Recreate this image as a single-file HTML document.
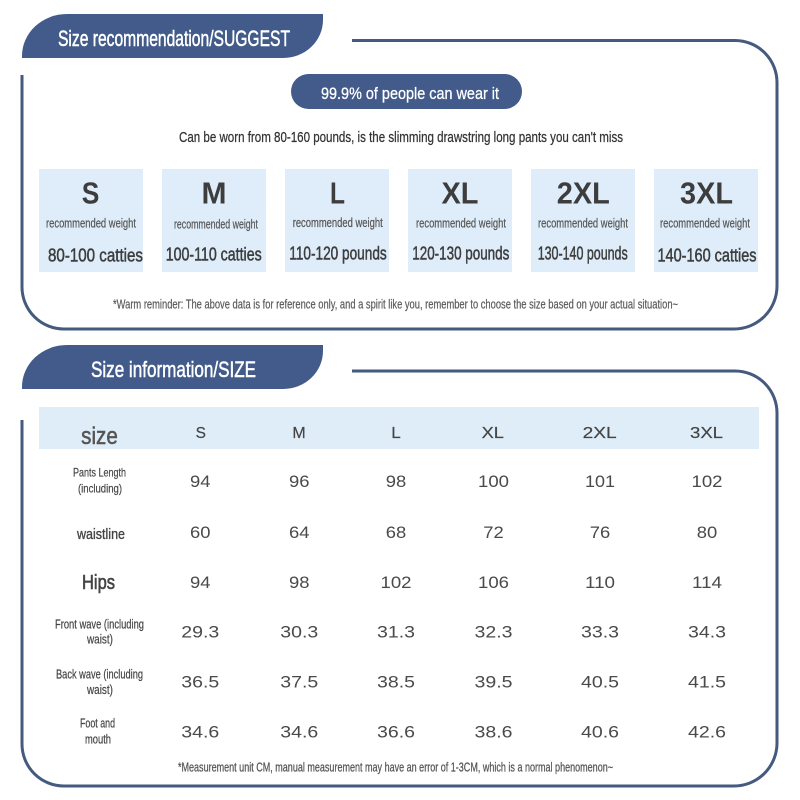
<!DOCTYPE html>
<html><head><meta charset="utf-8"><style>
html,body{margin:0;padding:0;background:#fff;}
svg{display:block;}
text{font-family:"Liberation Sans",sans-serif;}
</style></head><body>
<svg width="800" height="800" viewBox="0 0 800 800" xmlns="http://www.w3.org/2000/svg">
<rect width="800" height="800" fill="#fff"/>
<!-- Section 1 -->
<path d="M352,40.5 H735 A42,42 0 0 1 777,82.5 V286 A43,43 0 0 1 734,329 H64 A42,42 0 0 1 22,287 V75" fill="none" stroke="#455a7f" stroke-width="3"/>
<path d="M22,58 V56 A45,42 0 0 1 67,14 H323 V20 A40,38 0 0 1 283,58 Z" fill="#425b8a"/>
<text x="174" y="46" font-size="22" fill="#fff" stroke="#fff" stroke-width="0.5" text-anchor="middle" textLength="232" lengthAdjust="spacingAndGlyphs">Size recommendation/SUGGEST</text>
<rect x="291" y="74" width="231" height="35" rx="17.5" fill="#425b8a"/>
<text x="410" y="99" font-size="17" fill="#fff" stroke="#fff" stroke-width="0.3" text-anchor="middle" textLength="178" lengthAdjust="spacingAndGlyphs">99.9% of people can wear it</text>
<text x="401" y="142" font-size="15" fill="#333" stroke="#333" stroke-width="0.25" text-anchor="middle" textLength="444" lengthAdjust="spacingAndGlyphs">Can be worn from 80-160 pounds, is the slimming drawstring long pants you can't miss</text>

<g fill="#deedf9">
<rect x="39" y="169" width="104" height="103"/>
<rect x="162" y="169" width="104" height="103"/>
<rect x="285" y="169" width="104" height="103"/>
<rect x="408" y="169" width="104" height="103"/>
<rect x="531" y="169" width="104" height="103"/>
<rect x="654" y="169" width="104" height="103"/>
</g>
<g font-size="31" font-weight="bold" fill="#3d3d3d" text-anchor="middle">
<text x="90.5" y="203.5" textLength="17.6" lengthAdjust="spacingAndGlyphs">S</text>
<text x="214" y="203.5" textLength="25" lengthAdjust="spacingAndGlyphs">M</text>
<text x="337.5" y="203.5" textLength="15" lengthAdjust="spacingAndGlyphs">L</text>
<text x="460" y="203.5" textLength="37" lengthAdjust="spacingAndGlyphs">XL</text>
<text x="583.3" y="203.5" textLength="53" lengthAdjust="spacingAndGlyphs">2XL</text>
<text x="706.5" y="203.5" textLength="53" lengthAdjust="spacingAndGlyphs">3XL</text>
</g>
<g font-size="12.5" fill="#555" stroke="#555" stroke-width="0.2" text-anchor="middle">
<text x="91" y="227.5" textLength="90" lengthAdjust="spacingAndGlyphs">recommended weight</text>
<text x="216" y="228.3" textLength="84" lengthAdjust="spacingAndGlyphs">recommended weight</text>
<text x="337.7" y="227" textLength="90" lengthAdjust="spacingAndGlyphs">recommended weight</text>
<text x="461" y="227.5" textLength="90" lengthAdjust="spacingAndGlyphs">recommended weight</text>
<text x="583" y="227.5" textLength="90" lengthAdjust="spacingAndGlyphs">recommended weight</text>
<text x="705" y="227.5" textLength="90" lengthAdjust="spacingAndGlyphs">recommended weight</text>
</g>
<g font-size="18.5" fill="#3d3d3d" stroke="#3d3d3d" stroke-width="0.5" text-anchor="middle">
<text x="95.5" y="261.7" textLength="95" lengthAdjust="spacingAndGlyphs">80-100 catties</text>
<text x="213.7" y="260.7" textLength="96" lengthAdjust="spacingAndGlyphs">100-110 catties</text>
<text x="338" y="259.3" textLength="97.4" lengthAdjust="spacingAndGlyphs">110-120 pounds</text>
<text x="460.8" y="259.3" textLength="97" lengthAdjust="spacingAndGlyphs">120-130 pounds</text>
<text x="582.7" y="259.3" textLength="90" lengthAdjust="spacingAndGlyphs">130-140 pounds</text>
<text x="707" y="261.7" textLength="99" lengthAdjust="spacingAndGlyphs">140-160 catties</text>
</g>
<text x="395.5" y="308.5" font-size="12.5" fill="#5a5a5a" stroke="#5a5a5a" stroke-width="0.2" text-anchor="middle" textLength="565" lengthAdjust="spacingAndGlyphs">*Warm reminder: The above data is for reference only, and a spirit like you, remember to choose the size based on your actual situation~</text>

<!-- Section 2 -->
<path d="M352,371 H735 A42,42 0 0 1 777,413 V743 A43,43 0 0 1 734,786 H64 A42,42 0 0 1 22,744 V420" fill="none" stroke="#455a7f" stroke-width="3"/>
<path d="M22,389 V387 A45,42 0 0 1 67,345 H323 V351 A40,38 0 0 1 283,389 Z" fill="#425b8a"/>
<text x="173.5" y="377" font-size="22" fill="#fff" stroke="#fff" stroke-width="0.5" text-anchor="middle" textLength="165" lengthAdjust="spacingAndGlyphs">Size information/SIZE</text>

<rect x="39" y="407" width="720" height="42" fill="#deedf8"/>
<text x="99.5" y="444" font-size="24" fill="#555" stroke="#555" stroke-width="0.5" text-anchor="middle" textLength="36.7" lengthAdjust="spacingAndGlyphs">size</text>
<g font-size="16" fill="#444" stroke="#444" stroke-width="0.2" text-anchor="middle">
<text x="200.8" y="438" textLength="10.3" lengthAdjust="spacingAndGlyphs">S</text>
<text x="299" y="438" textLength="13.3" lengthAdjust="spacingAndGlyphs">M</text>
<text x="396" y="438" textLength="9.5" lengthAdjust="spacingAndGlyphs">L</text>
<text x="492.8" y="438" textLength="22.3" lengthAdjust="spacingAndGlyphs">XL</text>
<text x="599.7" y="438" textLength="34" lengthAdjust="spacingAndGlyphs">2XL</text>
<text x="706.5" y="438" textLength="33" lengthAdjust="spacingAndGlyphs">3XL</text>
</g>

<g fill="#444" stroke="#444" stroke-width="0.2" text-anchor="middle">
<text x="99.5" y="476.7" font-size="12" textLength="53" lengthAdjust="spacingAndGlyphs">Pants Length</text>
<text x="100" y="492.3" font-size="12" textLength="44" lengthAdjust="spacingAndGlyphs">(including)</text>
<text x="101" y="539" font-size="15" stroke-width="0.35" textLength="48" lengthAdjust="spacingAndGlyphs">waistline</text>
<text x="98.5" y="589" font-size="20" stroke-width="0.6" textLength="33" lengthAdjust="spacingAndGlyphs">Hips</text>
<text x="99.5" y="628.3" font-size="12.5" textLength="89" lengthAdjust="spacingAndGlyphs">Front wave (including</text>
<text x="100" y="643.3" font-size="12.5" textLength="26" lengthAdjust="spacingAndGlyphs">waist)</text>
<text x="99.5" y="678.3" font-size="12.5" textLength="87" lengthAdjust="spacingAndGlyphs">Back wave (including</text>
<text x="100" y="694" font-size="12.5" textLength="26" lengthAdjust="spacingAndGlyphs">waist)</text>
<text x="97.5" y="727.7" font-size="12.5" textLength="35" lengthAdjust="spacingAndGlyphs">Foot and</text>
<text x="98" y="743.3" font-size="12.5" textLength="26" lengthAdjust="spacingAndGlyphs">mouth</text>
</g>

<g font-size="17" fill="#4a4a4a" text-anchor="middle">
<text x="200.3" y="487" textLength="20.5" lengthAdjust="spacingAndGlyphs">94</text>
<text x="299.3" y="487" textLength="20.5" lengthAdjust="spacingAndGlyphs">96</text>
<text x="396" y="487" textLength="20.5" lengthAdjust="spacingAndGlyphs">98</text>
<text x="493.5" y="487" textLength="31" lengthAdjust="spacingAndGlyphs">100</text>
<text x="600" y="487" textLength="30" lengthAdjust="spacingAndGlyphs">101</text>
<text x="707" y="487" textLength="31" lengthAdjust="spacingAndGlyphs">102</text>
<text x="200.3" y="538" textLength="20.5" lengthAdjust="spacingAndGlyphs">60</text>
<text x="299.3" y="538" textLength="20.5" lengthAdjust="spacingAndGlyphs">64</text>
<text x="396" y="538" textLength="20.5" lengthAdjust="spacingAndGlyphs">68</text>
<text x="493.5" y="538" textLength="20.5" lengthAdjust="spacingAndGlyphs">72</text>
<text x="600" y="538" textLength="20.5" lengthAdjust="spacingAndGlyphs">76</text>
<text x="707" y="538" textLength="20.5" lengthAdjust="spacingAndGlyphs">80</text>
<text x="200.3" y="588" textLength="20.5" lengthAdjust="spacingAndGlyphs">94</text>
<text x="299.3" y="588" textLength="20.5" lengthAdjust="spacingAndGlyphs">98</text>
<text x="396" y="588" textLength="31" lengthAdjust="spacingAndGlyphs">102</text>
<text x="493.5" y="588" textLength="31" lengthAdjust="spacingAndGlyphs">106</text>
<text x="600" y="588" textLength="30" lengthAdjust="spacingAndGlyphs">110</text>
<text x="707" y="588" textLength="30" lengthAdjust="spacingAndGlyphs">114</text>
<text x="200.3" y="637.7" textLength="38" lengthAdjust="spacingAndGlyphs">29.3</text>
<text x="299.3" y="637.7" textLength="38" lengthAdjust="spacingAndGlyphs">30.3</text>
<text x="396" y="637.7" textLength="38" lengthAdjust="spacingAndGlyphs">31.3</text>
<text x="493.5" y="637.7" textLength="38" lengthAdjust="spacingAndGlyphs">32.3</text>
<text x="600" y="637.7" textLength="38" lengthAdjust="spacingAndGlyphs">33.3</text>
<text x="707" y="637.7" textLength="38" lengthAdjust="spacingAndGlyphs">34.3</text>
<text x="200.3" y="687.7" textLength="38" lengthAdjust="spacingAndGlyphs">36.5</text>
<text x="299.3" y="687.7" textLength="38" lengthAdjust="spacingAndGlyphs">37.5</text>
<text x="396" y="687.7" textLength="38" lengthAdjust="spacingAndGlyphs">38.5</text>
<text x="493.5" y="687.7" textLength="38" lengthAdjust="spacingAndGlyphs">39.5</text>
<text x="600" y="687.7" textLength="38" lengthAdjust="spacingAndGlyphs">40.5</text>
<text x="707" y="687.7" textLength="38" lengthAdjust="spacingAndGlyphs">41.5</text>
<text x="200.3" y="737.7" textLength="38" lengthAdjust="spacingAndGlyphs">34.6</text>
<text x="299.3" y="737.7" textLength="38" lengthAdjust="spacingAndGlyphs">34.6</text>
<text x="396" y="737.7" textLength="38" lengthAdjust="spacingAndGlyphs">36.6</text>
<text x="493.5" y="737.7" textLength="38" lengthAdjust="spacingAndGlyphs">38.6</text>
<text x="600" y="737.7" textLength="38" lengthAdjust="spacingAndGlyphs">40.6</text>
<text x="707" y="737.7" textLength="38" lengthAdjust="spacingAndGlyphs">42.6</text>
</g>

<text x="395.5" y="771.5" font-size="12.5" fill="#555" stroke="#555" stroke-width="0.25" text-anchor="middle" textLength="435" lengthAdjust="spacingAndGlyphs">*Measurement unit CM, manual measurement may have an error of 1-3CM, which is a normal phenomenon~</text>
</svg>
</body></html>
